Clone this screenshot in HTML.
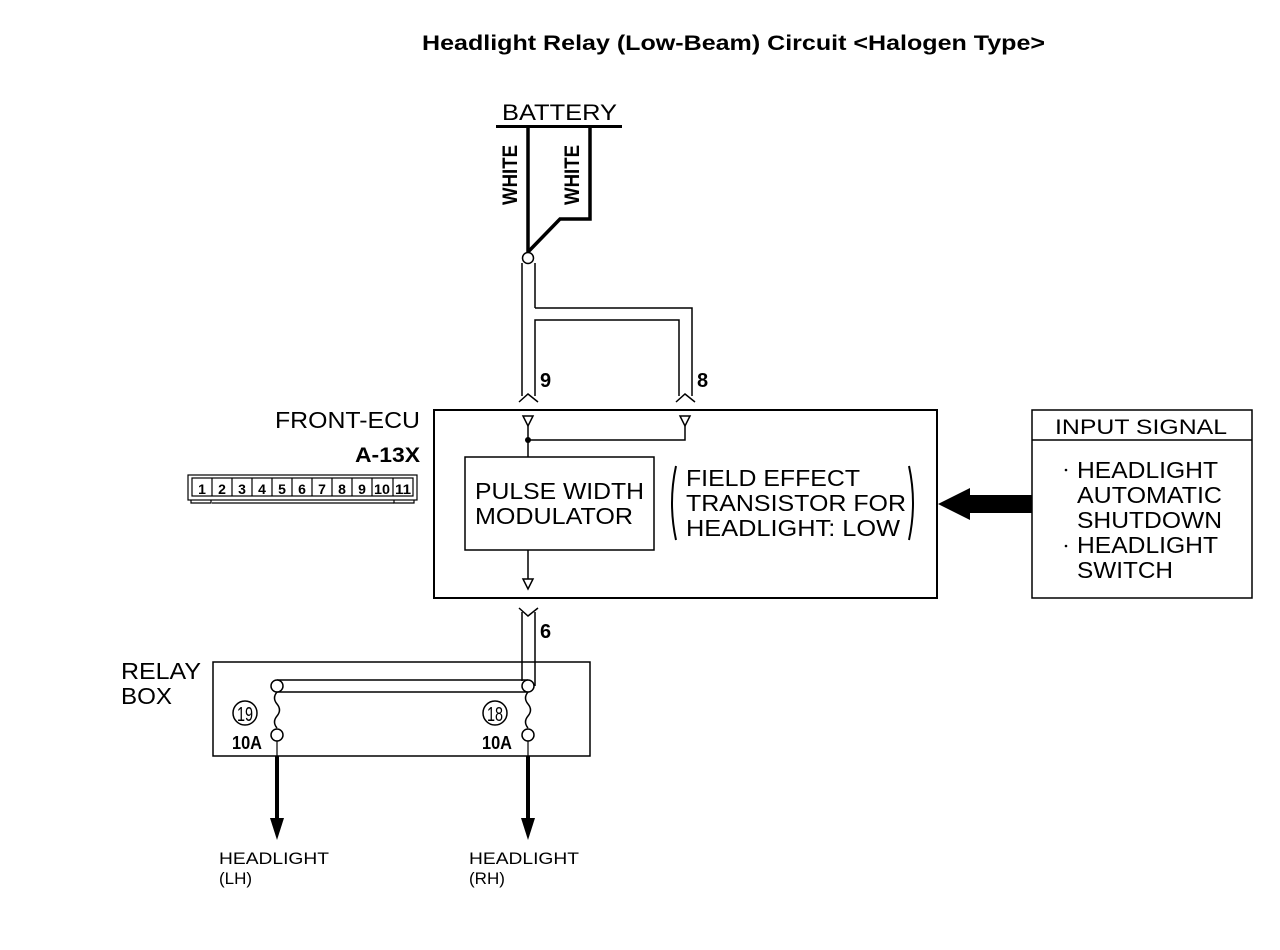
<!DOCTYPE html>
<html><head><meta charset="utf-8"><style>
html,body{margin:0;padding:0;background:#fff;}
svg{display:block;}
text{font-family:"Liberation Sans",sans-serif;fill:#000;}
</style></head><body>
<svg width="1280" height="950" viewBox="0 0 1280 950" xmlns="http://www.w3.org/2000/svg">
<rect width="1280" height="950" fill="#fff"/>
<text x="422" y="50" font-size="21" font-weight="bold" textLength="623" lengthAdjust="spacingAndGlyphs">Headlight Relay (Low-Beam) Circuit &lt;Halogen Type&gt;</text>

<text x="502" y="120" font-size="22" textLength="115" lengthAdjust="spacingAndGlyphs">BATTERY</text>
<line x1="496" y1="126.5" x2="622" y2="126.5" stroke="#000" stroke-width="3"/>
<polyline points="528,127 528,252" fill="none" stroke="#000" stroke-width="3.5"/>
<polyline points="590,127 590,219 560,219 528,252" fill="none" stroke="#000" stroke-width="3.5"/>
<text transform="translate(517,205) rotate(-90)" font-size="21" font-weight="bold" textLength="60" lengthAdjust="spacingAndGlyphs">WHITE</text>
<text transform="translate(579,205) rotate(-90)" font-size="21" font-weight="bold" textLength="60" lengthAdjust="spacingAndGlyphs">WHITE</text>
<circle cx="528" cy="258" r="5.5" fill="#fff" stroke="#000" stroke-width="1.5"/>

<g fill="none" stroke="#000" stroke-width="1.5">
<line x1="522" y1="263" x2="522" y2="396"/>
<line x1="535" y1="263" x2="535" y2="308"/>
<polyline points="535,308 692,308 692,396"/>
<polyline points="535,396 535,320 679,320 679,396"/>
<polyline points="519,402 528,394 538,402"/>
<polyline points="676,402 685,394 695,402"/>
</g>
<text x="540" y="387" font-size="20" font-weight="bold">9</text>
<text x="697" y="387" font-size="20" font-weight="bold">8</text>

<rect x="434" y="410" width="503" height="188" fill="none" stroke="#000" stroke-width="2"/>
<g fill="none" stroke="#000" stroke-width="1.5">
<polygon points="523,416 533,416 528,426"/>
<polygon points="680,416 690,416 685,426"/>
<line x1="528" y1="426" x2="528" y2="457"/>
<polyline points="685,426 685,440 528,440"/>
<line x1="528" y1="550" x2="528" y2="579"/>
<polygon points="523,579 533,579 528,589"/>
</g>
<circle cx="528" cy="440" r="3" fill="#000"/>
<rect x="465" y="457" width="189" height="93" fill="none" stroke="#000" stroke-width="1.5"/>
<text x="475" y="499" font-size="23" textLength="169" lengthAdjust="spacingAndGlyphs">PULSE WIDTH</text>
<text x="475" y="524" font-size="23" textLength="158" lengthAdjust="spacingAndGlyphs">MODULATOR</text>
<path d="M676 466 Q668 503 676 540" fill="none" stroke="#000" stroke-width="2"/>
<path d="M909 466 Q917 503 909 540" fill="none" stroke="#000" stroke-width="2"/>
<text x="686" y="486" font-size="23" textLength="174" lengthAdjust="spacingAndGlyphs">FIELD EFFECT</text>
<text x="686" y="511" font-size="23" textLength="220" lengthAdjust="spacingAndGlyphs">TRANSISTOR FOR</text>
<text x="686" y="536" font-size="23" textLength="214" lengthAdjust="spacingAndGlyphs">HEADLIGHT: LOW</text>

<text x="275" y="428" font-size="23" textLength="145" lengthAdjust="spacingAndGlyphs">FRONT-ECU</text>
<text x="420" y="462" font-size="21" font-weight="bold" text-anchor="end" textLength="65" lengthAdjust="spacingAndGlyphs">A-13X</text>
<g fill="none" stroke="#000" stroke-width="1.2">
<rect x="188" y="475" width="229" height="25"/>
<polyline points="191,500 191,503 211,503 211,500"/>
<polyline points="212,503 394,503"/>
<polyline points="394,500 394,503 414,503 414,500"/>
<rect x="192" y="478" width="221" height="18"/>
</g>
<g font-size="14" font-weight="bold" text-anchor="middle">
<text x="202" y="494">1</text><text x="222" y="494">2</text><text x="242" y="494">3</text><text x="262" y="494">4</text><text x="282" y="494">5</text><text x="302" y="494">6</text><text x="322" y="494">7</text><text x="342" y="494">8</text><text x="362" y="494">9</text><text x="382" y="494" textLength="16" lengthAdjust="spacingAndGlyphs">10</text><text x="403" y="494" textLength="16" lengthAdjust="spacingAndGlyphs">11</text>
</g>
<g stroke="#000" stroke-width="1.2">
<line x1="212" y1="478" x2="212" y2="496"/><line x1="232" y1="478" x2="232" y2="496"/><line x1="252" y1="478" x2="252" y2="496"/><line x1="272" y1="478" x2="272" y2="496"/><line x1="292" y1="478" x2="292" y2="496"/><line x1="312" y1="478" x2="312" y2="496"/><line x1="332" y1="478" x2="332" y2="496"/><line x1="352" y1="478" x2="352" y2="496"/><line x1="372" y1="478" x2="372" y2="496"/><line x1="393" y1="478" x2="393" y2="496"/>
</g>

<rect x="1032" y="410" width="220" height="188" fill="none" stroke="#000" stroke-width="1.5"/>
<line x1="1032" y1="440" x2="1252" y2="440" stroke="#000" stroke-width="1.5"/>
<text x="1055" y="434" font-size="21" textLength="172" lengthAdjust="spacingAndGlyphs">INPUT SIGNAL</text>
<circle cx="1066" cy="470" r="1.3" fill="#000"/>
<circle cx="1066" cy="546" r="1.3" fill="#000"/>
<text x="1077" y="478" font-size="23" textLength="141" lengthAdjust="spacingAndGlyphs">HEADLIGHT</text>
<text x="1077" y="503" font-size="23" textLength="145" lengthAdjust="spacingAndGlyphs">AUTOMATIC</text>
<text x="1077" y="528" font-size="23" textLength="145" lengthAdjust="spacingAndGlyphs">SHUTDOWN</text>
<text x="1077" y="553" font-size="23" textLength="141" lengthAdjust="spacingAndGlyphs">HEADLIGHT</text>
<text x="1077" y="578" font-size="23" textLength="96" lengthAdjust="spacingAndGlyphs">SWITCH</text>
<polygon points="1032,495 970,495 970,488 938,504 970,520 970,513 1032,513" fill="#000"/>

<g fill="none" stroke="#000" stroke-width="1.5">
<polyline points="519,608 528,616 538,608"/>
<line x1="522" y1="612" x2="522" y2="681"/>
<line x1="535" y1="612" x2="535" y2="686"/>
</g>
<text x="540" y="638" font-size="20" font-weight="bold">6</text>

<text x="121" y="679" font-size="23" textLength="80" lengthAdjust="spacingAndGlyphs">RELAY</text>
<text x="121" y="704" font-size="23" textLength="51" lengthAdjust="spacingAndGlyphs">BOX</text>
<rect x="213" y="662" width="377" height="94" fill="none" stroke="#000" stroke-width="1.5"/>
<line x1="277" y1="680" x2="528" y2="680" stroke="#000" stroke-width="1.5"/>
<line x1="277" y1="692" x2="528" y2="692" stroke="#000" stroke-width="1.5"/>
<g fill="none" stroke="#000" stroke-width="1.5">
<path d="M277 692 q-5 6 0 12 q5 6 0 12 q-5 6 0 12"/>
<path d="M528 692 q-5 6 0 12 q5 6 0 12 q-5 6 0 12"/>
</g>
<g fill="#fff" stroke="#000" stroke-width="1.5">
<circle cx="277" cy="686" r="6"/><circle cx="528" cy="686" r="6"/>
<circle cx="277" cy="735" r="6"/><circle cx="528" cy="735" r="6"/>
<circle cx="245" cy="713" r="12"/><circle cx="495" cy="713" r="12"/>
</g>
<text x="245" y="721" font-size="20" text-anchor="middle" textLength="16" lengthAdjust="spacingAndGlyphs">19</text>
<text x="495" y="721" font-size="20" text-anchor="middle" textLength="16" lengthAdjust="spacingAndGlyphs">18</text>
<text x="232" y="749" font-size="18" font-weight="bold" textLength="30" lengthAdjust="spacingAndGlyphs">10A</text>
<text x="482" y="749" font-size="18" font-weight="bold" textLength="30" lengthAdjust="spacingAndGlyphs">10A</text>
<line x1="277" y1="741" x2="277" y2="756" stroke="#000" stroke-width="1.2"/>
<line x1="528" y1="741" x2="528" y2="756" stroke="#000" stroke-width="1.2"/>
<line x1="277" y1="756" x2="277" y2="822" stroke="#000" stroke-width="4"/>
<line x1="528" y1="756" x2="528" y2="822" stroke="#000" stroke-width="4"/>
<polygon points="270,818 284,818 277,840" fill="#000"/>
<polygon points="521,818 535,818 528,840" fill="#000"/>
<text x="219" y="864" font-size="17" textLength="110" lengthAdjust="spacingAndGlyphs">HEADLIGHT</text>
<text x="219" y="884" font-size="17">(LH)</text>
<text x="469" y="864" font-size="17" textLength="110" lengthAdjust="spacingAndGlyphs">HEADLIGHT</text>
<text x="469" y="884" font-size="17">(RH)</text>
</svg>
</body></html>
